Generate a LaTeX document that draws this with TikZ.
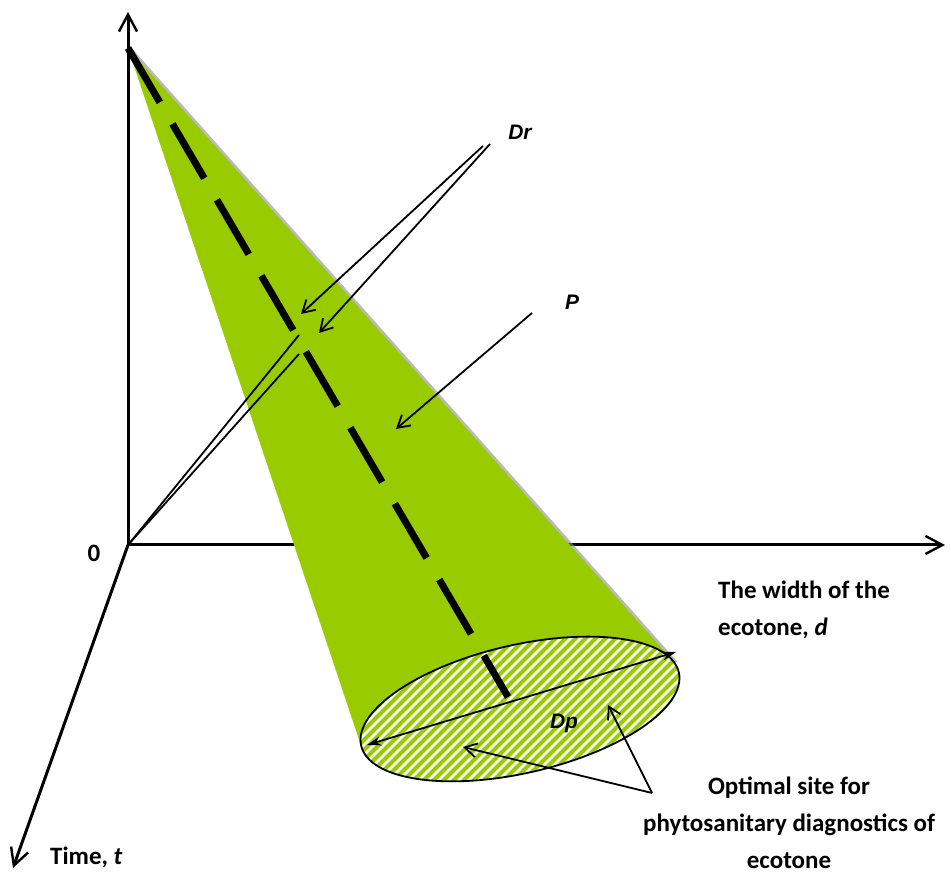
\documentclass[tikz,border=0pt]{standalone}
\usepackage{fontspec}
\setmainfont{Carlito}
\newfontfamily\symfont{Liberation Sans}
\usetikzlibrary{arrows.meta}
\definecolor{conegreen}{RGB}{153,204,0}
\begin{document}
\begin{tikzpicture}[x=1pt,y=1pt,
  axis/.style={line width=3pt, -{Straight Barb[length=17pt,width=18pt,line width=2.4pt]}},
  thinline/.style={line width=1.8pt},
  ptr/.style={line width=1.8pt, -{Straight Barb[length=12pt,width=14pt,line width=1.8pt]}},
  dparrow/.style={line width=1.8pt, {Stealth[length=14pt,width=9pt]}-{Stealth[length=14pt,width=9pt]}},
  lbl/.style={font=\fontsize{25}{37}\selectfont\bfseries, inner sep=0pt},
  sym/.style={font=\symfont\fontsize{21}{25}\selectfont\bfseries\itshape, inner sep=0pt},
  centreline/.style={line width=7pt, dash pattern=on 63pt off 25pt}]
\useasboundingbox (0,0) rectangle (951,874);
% key points
\coordinate (O) at (128,329);
\coordinate (Yend) at (128,862);
\coordinate (Xend) at (945,329);
\coordinate (Tend) at (13,6);
\coordinate (A) at (128,826);
\coordinate (B) at (508,177);
\coordinate (E) at (520,165);
\begin{scope}[shift={(520,165)}, rotate=13]
  \coordinate (TL) at (182.15:163 and 64);
  \coordinate (TR) at (12.10:163 and 64);
\end{scope}
% axes
\draw[axis] (O) -- (Yend);
\draw[axis] (O) -- (Xend);
\draw[axis] (O) -- (Tend);
% cone
\draw[line width=5pt, black!45, opacity=0.6] ([shift={(2.5,-2.5)}]A) -- ([shift={(3,-3)}]TR);
\fill[conegreen] (A) -- (TL) -- (TR) -- cycle;
% base ellipse
\fill[white, rotate around={13:(E)}] (E) ellipse [x radius=163, y radius=64];
\begin{scope}
  \path[clip, rotate around={13:(E)}] (E) ellipse [x radius=163, y radius=64];
  \foreach \c in {100,110,...,620}
    \draw[conegreen, line width=4pt] (\c+40,40) -- (\c+280,280);
\end{scope}
\draw[line width=1.8pt, rotate around={13:(E)}] (E) ellipse [x radius=163, y radius=64];
% radial lines from origin
\coordinate (R1) at (299,539);
\coordinate (R2) at (299,520);
\draw[thinline] (O) -- (R1);
\draw[thinline] (O) -- (R2);
% centre line
\draw[centreline] (A) -- (B);
% labels
\node[sym] (Dr) at (520,742) {Dr};
\node[sym] (P) at (572,572) {P};
\node[sym] (Dp) at (564,151) {Dp};
\node[lbl] (zero) at (94,321) {0};
\node[lbl, anchor=base west] (time) at (50,9) {Time, \textit{t}};
\node[lbl, anchor=north west, align=left] (width) at (718,293) {The width of the\\ecotone, \textit{d}};
\node[lbl, anchor=north, align=center] (opt) at (789,97) {Optimal site for\\phytosanitary diagnostics of\\ecotone};
% pointers
\coordinate (DrA) at (483,728);
\coordinate (DrB) at (490,730);
\coordinate (DrAend) at (301,560);
\coordinate (DrBend) at (319,541);
\draw[ptr] (DrA) -- (DrAend);
\draw[ptr] (DrB) -- (DrBend);
\coordinate (Ps) at (532,561);
\coordinate (Pe) at (396,445);
\draw[ptr] (Ps) -- (Pe);
\coordinate (Dp1) at (367,129);
\coordinate (Dp2) at (676,222);
\draw[dparrow] (Dp1) -- (Dp2);
\coordinate (V) at (652,81);
\coordinate (V1) at (463,127);
\coordinate (V2) at (608,169);
\draw[ptr] (V) -- (V1);
\draw[ptr] (V) -- (V2);
\end{tikzpicture}
\end{document}
